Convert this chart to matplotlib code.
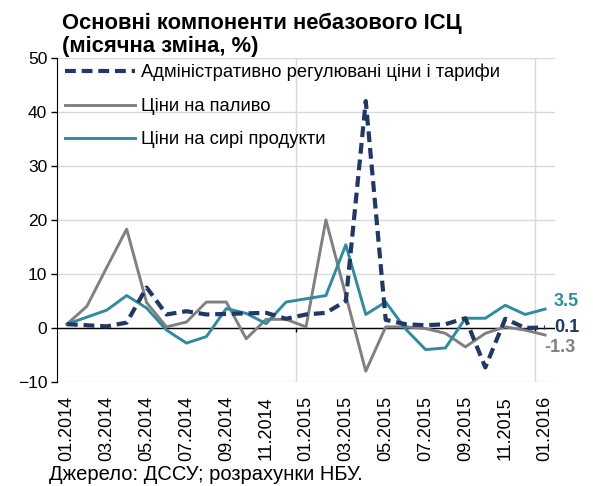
import numpy as np
import matplotlib.pyplot as plt
from matplotlib.transforms import blended_transform_factory

plt.rcParams['font.family'] = ['Liberation Sans', 'DejaVu Sans']

# --- DATA (місячна зміна, %) ---
months = ['01.2014', '02.2014', '03.2014', '04.2014', '05.2014', '06.2014',
          '07.2014', '08.2014', '09.2014', '10.2014', '11.2014', '12.2014',
          '01.2015', '02.2015', '03.2015', '04.2015', '05.2015', '06.2015',
          '07.2015', '08.2015', '09.2015', '10.2015', '11.2015', '12.2015',
          '01.2016']
admin = [0.7, 0.5, 0.3, 1.0, 7.5, 2.5, 3.1, 2.5, 2.6, 2.7, 2.8, 1.7,
         2.5, 2.8, 5.0, 42.0, 1.5, 0.7, 0.5, 0.7, 1.8, -7.3, 1.7, 0.0, 0.1]
fuel = [0.7, 4.0, 11.2, 18.3, 4.7, 0.2, 1.1, 4.8, 4.8, -2.0, 1.6, 1.6,
        0.2, 20.0, 6.0, -8.0, 0.2, 0.2, -0.1, -1.0, -3.5, -1.0, 0.2, -0.4, -1.3]
raw = [0.7, 2.0, 3.3, 6.0, 3.7, -0.4, -2.8, -1.6, 3.6, 2.7, 0.8, 4.8,
       5.4, 6.0, 15.4, 2.5, 4.8, -0.2, -4.0, -3.7, 1.8, 1.8, 4.2, 2.5, 3.5]

labels = ['Адміністративно регулювані ціни і тарифи', 'Ціни на паливо',
          'Ціни на сирі продукти']
C_ADMIN = '#203864'
C_FUEL = '#808080'
C_RAW = '#2f8b9f'

fig = plt.figure(figsize=(5.93, 4.86), dpi=100)
ax = fig.add_axes([0.096, 0.214, 0.84, 0.667])

x = np.arange(len(months))
ax.plot(x, admin, color=C_ADMIN, lw=3.0, ls=(0, (2.6, 1.4)), label=labels[0], zorder=3)
ax.plot(x, fuel, color=C_FUEL, lw=2.1, label=labels[1], zorder=2)
ax.plot(x, raw, color=C_RAW, lw=2.1, label=labels[2], zorder=2)

ax.set_xlim(-0.5, len(months) - 0.5)
ax.set_ylim(-10, 50)
ax.set_yticks(np.arange(-10, 51, 10))
ax.tick_params(axis='y', labelsize=12.5, length=4, width=1, pad=3)

# сітка: горизонтальна через 10, вертикальна на межі років
for yv in np.arange(-10, 51, 10):
    ax.axhline(yv, color='#d9d9d9', lw=1, zorder=0)
for xv in [11.5, 23.5]:
    ax.axvline(xv, color='#d9d9d9', lw=1, zorder=0)
ax.axhline(0, color='black', lw=1, zorder=1)
ax.vlines([11.5, 23.5], -0.8, 0, color='black', lw=1, zorder=1)

ax.set_xticks(x[::2])
ax.set_xticklabels(months[::2], rotation=90, fontsize=13)
ax.tick_params(axis='x', length=0, pad=10)

for s in ['top', 'right', 'bottom']:
    ax.spines[s].set_visible(False)
ax.spines['left'].set_color('black')

# підписи останніх значень
tr = blended_transform_factory(ax.transAxes, ax.transData)
ax.text(0.998, raw[-1] + 1.4, f'{raw[-1]:.1f}', color=C_RAW, fontsize=13,
        fontweight='bold', transform=tr, va='center', ha='left')
ax.text(0.998, admin[-1], f'{admin[-1]:.1f}', color=C_ADMIN, fontsize=13,
        fontweight='bold', transform=tr, va='center', ha='left')
ax.text(0.979, fuel[-1] - 2.3, f'{fuel[-1]:.1f}', color=C_FUEL, fontsize=13,
        fontweight='bold', transform=tr, va='center', ha='left')

ax.legend(loc='upper left', bbox_to_anchor=(0.005, 0.998), frameon=False,
          fontsize=13.2, handlelength=3.8, handletextpad=0.35, labelspacing=0.9,
          borderaxespad=0.0, borderpad=0.3)

fig.text(0.105, 0.9403, 'Основні компоненти небазового ІСЦ',
         fontsize=15.8, fontweight='bold', va='baseline', ha='left')
fig.text(0.105, 0.893, '(місячна зміна, %)',
         fontsize=15.8, fontweight='bold', va='baseline', ha='left')
fig.text(0.083, 0.012, 'Джерело: ДССУ; розрахунки НБУ.', fontsize=14.5,
         va='baseline', ha='left')

fig.savefig('out.png', dpi=100)
